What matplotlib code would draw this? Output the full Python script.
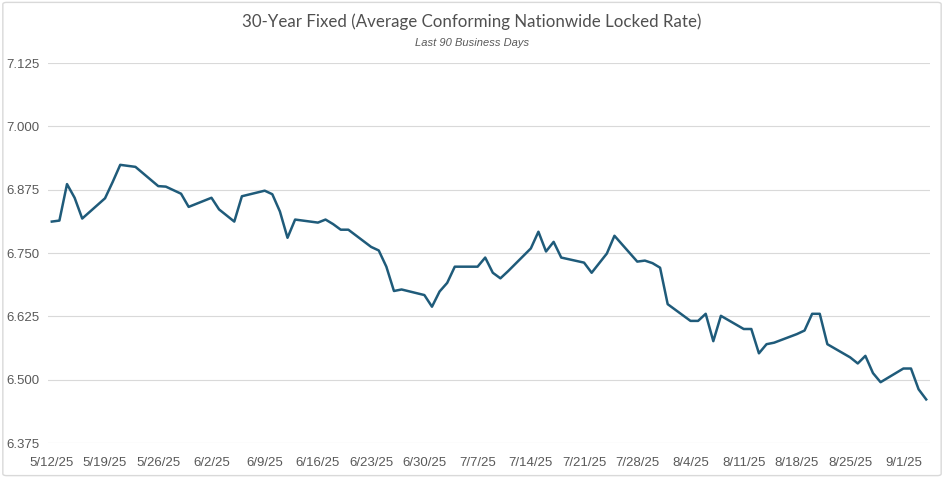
import matplotlib
matplotlib.use("Agg")
import matplotlib.pyplot as plt
import matplotlib.patches as mpatches
import pandas as pd

# 30-year fixed, average conforming nationwide locked rate (business days)
dates = pd.bdate_range("2025-05-12", "2025-09-04")
rates = [
    6.812, 6.814, 6.886, 6.859, 6.818,   # 5/12 - 5/16
    6.858, 6.890, 6.924, 6.922, 6.920,   # 5/19 - 5/23
    6.882, 6.881, 6.874, 6.867, 6.841,   # 5/26 - 5/30
    6.859, 6.836, 6.824, 6.812, 6.862,   # 6/2 - 6/6
    6.873, 6.866, 6.832, 6.780, 6.816,   # 6/9 - 6/13
    6.810, 6.816, 6.807, 6.796, 6.796,   # 6/16 - 6/20
    6.762, 6.755, 6.723, 6.675, 6.678,   # 6/23 - 6/27
    6.667, 6.644, 6.674, 6.691, 6.723,   # 6/30 - 7/4
    6.723, 6.741, 6.711, 6.700, 6.714,   # 7/7 - 7/11
    6.759, 6.792, 6.753, 6.772, 6.741,   # 7/14 - 7/18
    6.731, 6.711, 6.730, 6.749, 6.784,   # 7/21 - 7/25
    6.733, 6.735, 6.730, 6.721, 6.649,   # 7/28 - 8/1
    6.616, 6.616, 6.630, 6.576, 6.626,   # 8/4 - 8/8
    6.600, 6.600, 6.552, 6.570, 6.573,   # 8/11 - 8/15
    6.590, 6.597, 6.630, 6.630, 6.570,   # 8/18 - 8/22
    6.544, 6.532, 6.547, 6.513, 6.495,   # 8/25 - 8/29
    6.522, 6.522, 6.481, 6.461,          # 9/1 - 9/4
]
y_ticks = [6.375, 6.500, 6.625, 6.750, 6.875, 7.000, 7.125]
x_ticks = pd.date_range("2025-05-12", "2025-09-01", freq="W-MON")
x_labels = [f"{d.month}/{d.day}/{d:%y}" for d in x_ticks]

title = "30-Year Fixed (Average Conforming Nationwide Locked Rate)"
subtitle = "Last 90 Business Days"

grey_text = "#595959"
grid_col = "#D9D9D9"
line_col = "#1F5B7A"
narrow = ["Liberation Sans Narrow", "Liberation Sans"]

fig = plt.figure(figsize=(9.44, 4.78), dpi=100)
ax = fig.add_axes([48 / 944, 1 - 443 / 478, (930 - 48) / 944, (443 - 63) / 478])

ax.plot(dates, rates, color=line_col, lw=1.8, solid_joinstyle="round")

ax.set_ylim(6.375, 7.125)
ax.set_yticks(y_ticks)
ax.set_yticklabels([f"{v:.3f}" for v in y_ticks])
ax.set_xlim(dates[0] - pd.Timedelta(hours=12), dates[-1] + pd.Timedelta(hours=12))
ax.set_xticks(x_ticks)
ax.set_xticklabels(x_labels)

ax.grid(axis="y", color=grid_col, lw=0.8)
ax.set_axisbelow(True)
for s in ax.spines.values():
    s.set_visible(False)
ax.tick_params(axis="both", length=0, colors=grey_text, labelsize=9.5)
ax.tick_params(axis="y", pad=6)
ax.tick_params(axis="x", pad=10)
for lbl in ax.get_xticklabels() + ax.get_yticklabels():
    lbl.set_family(narrow)

fig.text(0.5, 1 - 22 / 478, title, ha="center", va="center", fontsize=12.2,
         color="#505050", family=["Lato", "DejaVu Sans"])
fig.text(0.5, 1 - 43 / 478, subtitle, ha="center", va="center", fontsize=8,
         color=grey_text, style="italic", family=narrow)

# chart area border
fig.patches.append(mpatches.FancyBboxPatch((0.003, 0.005), 0.994, 0.99,
                                           boxstyle="round,pad=0,rounding_size=0.004",
                                           transform=fig.transFigure, fill=False,
                                           ec=grid_col, lw=1))

fig.savefig("out.png", dpi=100)
